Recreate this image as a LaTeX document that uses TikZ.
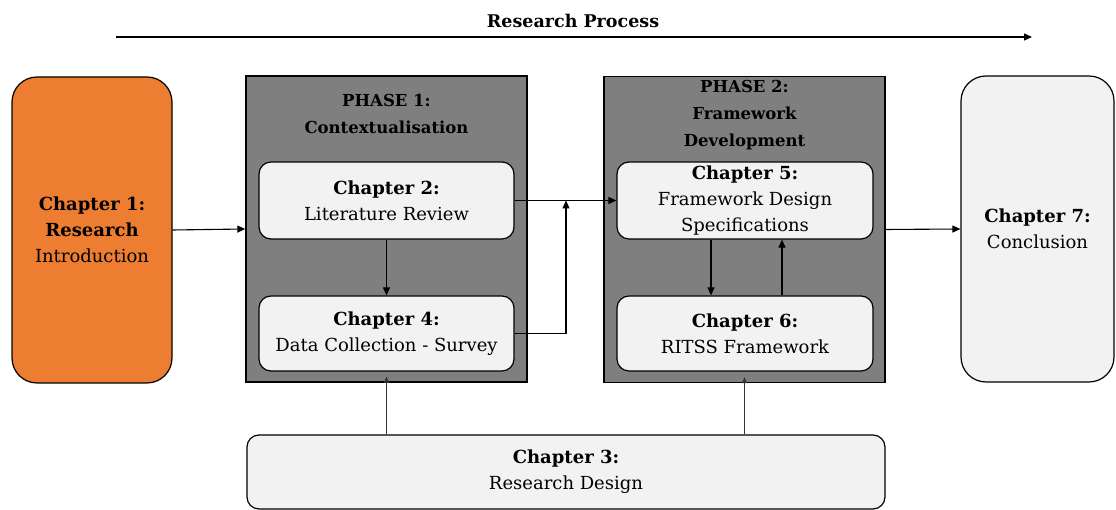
\documentclass[tikz,border=0pt]{standalone}
\usepackage{fontspec}
\setmainfont{DejaVu Serif}
\usepackage{xcolor}
\usetikzlibrary{arrows.meta, positioning, calc}
\definecolor{RPOrange}{RGB}{237, 125, 49}
\definecolor{RPGrey}{RGB}{127, 127, 127}
\definecolor{RPLight}{RGB}{242, 242, 242}

\begin{document}
\begin{tikzpicture}[x=1pt,y=1pt,
    chapbox/.style={draw=black, line width=1.2pt, fill=RPLight, rounded corners=12pt,
      align=center, inner sep=2pt, font=\fontsize{18}{26}\selectfont},
    sidebox/.style={chapbox, rounded corners=25pt, minimum width=153pt, minimum height=306pt},
    phasebox/.style={draw=black, line width=1.4pt, fill=RPGrey, minimum width=281pt,
      minimum height=306pt},
    phasetitle/.style={align=center, font=\fontsize{16.5}{27}\selectfont\bfseries},
    flow/.style={line width=1.1pt, -{Triangle[length=8pt,width=7pt]}},
    feed/.style={line width=0.7pt, draw=black!80, -{Triangle[length=6pt,width=5pt]}}]
  \path[use as bounding box] (0,0) rectangle (1116,510);

  % Research process banner
  \node[font=\fontsize{17.5}{20}\selectfont\bfseries] (proctitle) at (573,489) {Research Process};
  \coordinate (procstart) at (116,473);
  \coordinate (procend) at (1032,473);
  \draw[flow] (procstart) -- (procend);

  % Chapter 1
  \node[sidebox, fill=RPOrange, minimum width=160pt] (ch1) at (92,280)
    {\textbf{Chapter 1:}\\\textbf{Research}\\Introduction};

  % Phase 1
  \node[phasebox] (phase1) at (386.5,281) {};
  \node[phasetitle] (p1title) at (386.5,396) {PHASE 1:\\Contextualisation};
  \node[chapbox, minimum width=255pt, minimum height=77pt] (ch2) at (386.5,309.5)
    {\textbf{Chapter 2:}\\Literature Review};
  \node[chapbox, minimum width=255pt, minimum height=75pt] (ch4) at (386.5,176.5)
    {\textbf{Chapter 4:}\\Data Collection - Survey};

  % Phase 2
  \node[phasebox] (phase2) at (744.5,280.5) {};
  \node[phasetitle] (p2title) at (744.5,395) {PHASE 2:\\Framework\\Development};
  \node[chapbox, minimum width=256pt, minimum height=77pt] (ch5) at (745,309.5)
    {\textbf{Chapter 5:}\\Framework Design\\Specifications};
  \node[chapbox, minimum width=256pt, minimum height=75pt] (ch6) at (745,176.5)
    {\textbf{Chapter 6:}\\RITSS Framework};

  % Chapter 7
  \node[sidebox] (ch7) at (1037.5,281) {\textbf{Chapter 7:}\\Conclusion};

  % Chapter 3
  \node[chapbox, minimum width=638pt, minimum height=74pt] (ch3) at (566,38)
    {\textbf{Chapter 3:}\\Research Design};

  % Connectors
  \coordinate (merge) at (566,309.5);
  \draw[flow] (ch1.east) -- (phase1.west);
  \draw[flow] (ch2.south) -- (ch4.north);
  \draw[flow] (ch2.east) -- (ch5.west);
  \draw[flow] (ch4.east) -- (ch4.east -| merge) -- (merge);
  \draw[flow] ([xshift=-34pt]ch5.south) -- ([xshift=-34pt]ch6.north);
  \draw[flow] ([xshift=37pt]ch6.north) -- ([xshift=37pt]ch5.south);
  \draw[flow] (phase2.east) -- (ch7.west);
  \draw[feed] (ch3.north -| phase1.south) -- ([yshift=6pt]phase1.south);
  \draw[feed] (ch3.north -| phase2.south) -- ([yshift=6pt]phase2.south);
\end{tikzpicture}
\end{document}
